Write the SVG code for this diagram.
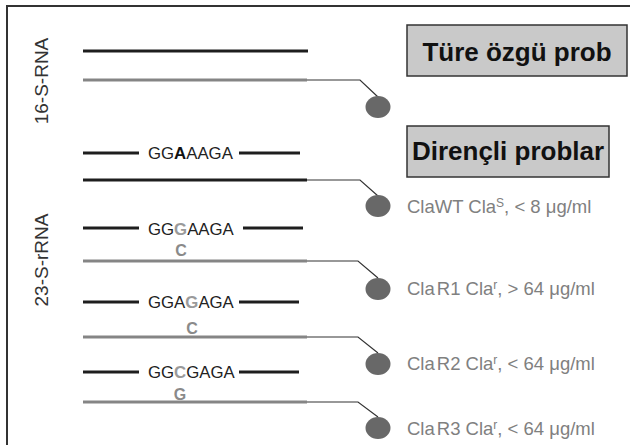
<svg xmlns="http://www.w3.org/2000/svg" width="630" height="445" viewBox="0 0 630 445">
  <style>
    .frame { fill: none; stroke: #333; stroke-width: 2; }
    .strand { stroke: #1e1e1e; stroke-width: 3.2; stroke-linecap: butt; }
    .probe { stroke: #858585; stroke-width: 3.2; stroke-linecap: butt; }
    .lead { fill: none; stroke: #333; stroke-width: 1.2; }
    .dot { fill: #686868; }
    .seq { font-family: "Liberation Sans", Arial, sans-serif; font-size: 16.8px; fill: #222; }
    .hi { fill: #9a9a9a; font-weight: bold; }
    .bold { font-weight: bold; fill: #111; }
    .sub { font-family: "Liberation Sans", Arial, sans-serif; font-size: 16px; font-weight: bold; fill: #8a8a8a; text-anchor: middle; }
    .lbl { font-family: "Liberation Sans", Arial, sans-serif; font-size: 18.5px; fill: #808080; }
    .sup { font-size: 12px; }
    .side { font-family: "Liberation Sans", Arial, sans-serif; font-size: 19px; fill: #333; text-anchor: middle; }
    .box rect { fill: #c9c9c9; stroke: #333; stroke-width: 1.5; }
    .box text { font-family: "Liberation Sans", Arial, sans-serif; font-size: 26px; font-weight: bold; fill: #111; text-anchor: middle; }
  </style>

  <!-- outer frame: top and left edges -->
  <path class="frame" d="M7,445 V6 H630"/>

  <!-- side labels -->
  <text class="side" transform="translate(48,81) rotate(-90)">16-S-RNA</text>
  <text class="side" transform="translate(48,260) rotate(-90)">23-S-rRNA</text>

  <!-- heading boxes -->
  <g id="box-species" class="box">
    <rect x="407" y="25" width="220" height="51"/>
    <text x="517" y="61">Türe özgü prob</text>
  </g>
  <g id="box-resistant" class="box">
    <rect x="407" y="126" width="202" height="51"/>
    <text x="508" y="160">Dirençli problar</text>
  </g>

  <!-- 16S rRNA target and species probe -->
  <g id="rna16">
    <line class="strand" x1="83" y1="51" x2="308" y2="51"/>
    <line class="probe" x1="83" y1="80" x2="307" y2="80"/>
  </g>

  <!-- 23S rRNA wild type -->
  <g id="rna23-wt">
    <line class="strand" x1="83" y1="153" x2="139" y2="153"/>
    <line class="strand" x1="239" y1="153" x2="300" y2="153"/>
    <text class="seq" x="148" y="159">GG<tspan class="bold">A</tspan>AAGA</text>
    <line class="strand" x1="83" y1="180" x2="307" y2="180"/>
  </g>

  <!-- 23S rRNA mutant R1 -->
  <g id="rna23-r1">
    <line class="strand" x1="83" y1="228" x2="139" y2="228"/>
    <line class="strand" x1="243" y1="228" x2="303" y2="228"/>
    <text class="seq" x="148" y="235">GG<tspan class="hi">G</tspan>AAGA</text>
    <text class="sub" x="181" y="256">C</text>
    <line class="probe" x1="83" y1="261" x2="307" y2="261"/>
  </g>

  <!-- 23S rRNA mutant R2 -->
  <g id="rna23-r2">
    <line class="strand" x1="83" y1="302" x2="139" y2="302"/>
    <line class="strand" x1="239" y1="302" x2="299" y2="302"/>
    <text class="seq" x="148" y="308">GGA<tspan class="hi">G</tspan>AGA</text>
    <text class="sub" x="192" y="334">C</text>
    <line class="probe" x1="83" y1="337" x2="307" y2="337"/>
  </g>

  <!-- 23S rRNA mutant R3 -->
  <g id="rna23-r3">
    <line class="strand" x1="83" y1="372" x2="139" y2="372"/>
    <line class="strand" x1="239" y1="372" x2="299" y2="372"/>
    <text class="seq" x="148" y="378">GG<tspan class="hi">C</tspan>GAGA</text>
    <text class="sub" x="180" y="400">G</text>
    <line class="probe" x1="83" y1="402" x2="307" y2="402"/>
  </g>

  <!-- probe leads -->
  <g id="connectors">
    <path class="lead" d="M307,80 H360 L378,97"/>
    <path class="lead" d="M307,180 H360 L378,196"/>
    <path class="lead" d="M307,261 H358 L378,278"/>
    <path class="lead" d="M307,337 H358 L378,353"/>
    <path class="lead" d="M307,402 H358 L378,417"/>
  </g>

  <!-- probe spots with labels -->
  <g id="spot-species">
    <ellipse class="dot" cx="378" cy="107" rx="12.5" ry="11"/>
  </g>
  <g id="spot-wt">
    <ellipse class="dot" cx="378" cy="206" rx="12.5" ry="11"/>
    <text class="lbl" x="407" y="213">ClaWT Cla<tspan class="sup" dy="-6">S</tspan><tspan dy="6">, &lt; 8 μg/ml</tspan></text>
  </g>
  <g id="spot-r1">
    <ellipse class="dot" cx="378" cy="289" rx="12.5" ry="11"/>
    <text class="lbl" x="407" y="295">Cla<tspan dx="2">R1 Cla</tspan><tspan class="sup" dy="-6">r</tspan><tspan dy="6">, &gt; 64 μg/ml</tspan></text>
  </g>
  <g id="spot-r2">
    <ellipse class="dot" cx="378" cy="364" rx="12.5" ry="11"/>
    <text class="lbl" x="407" y="370">Cla<tspan dx="2">R2 Cla</tspan><tspan class="sup" dy="-6">r</tspan><tspan dy="6">, &lt; 64 μg/ml</tspan></text>
  </g>
  <g id="spot-r3">
    <ellipse class="dot" cx="378" cy="428" rx="12.5" ry="11"/>
    <text class="lbl" x="407" y="435">Cla<tspan dx="2">R3 Cla</tspan><tspan class="sup" dy="-6">r</tspan><tspan dy="6">, &lt; 64 μg/ml</tspan></text>
  </g>
</svg>
